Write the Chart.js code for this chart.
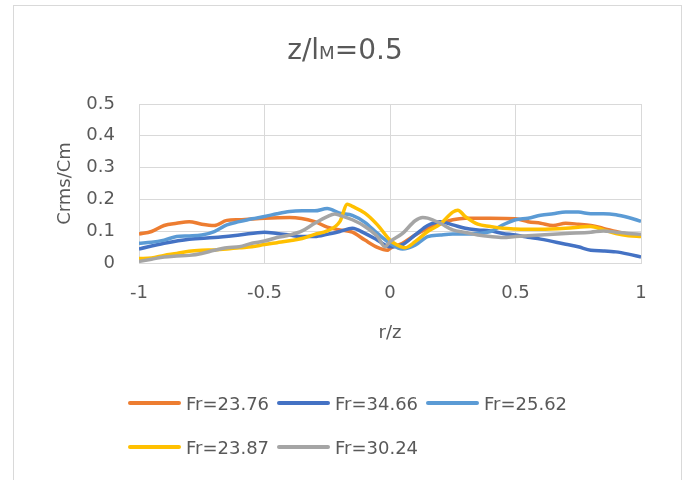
<!DOCTYPE html>
<html>
<head>
<meta charset="utf-8">
<script src="https://cdn.jsdelivr.net/npm/chart.js"></script>
<style>
  body { margin: 0; background: #fff; font-family: "DejaVu Sans", sans-serif; color: #595959; }
  .quadro { position: absolute; left: 13px; top: 5px; width: 667px; height: 500px; border: 1px solid #d9d9d9; }
  .grafico { position: absolute; left: 0; top: 0; width: 683px; height: 480px; }
  .titulo { position: absolute; left: 0; top: 33px; width: 690px; text-align: center; font-size: 28px; line-height: 34px; }
  .titulo span { font-size: 65%; }
  .legenda { position: absolute; left: 128px; top: 390px; width: 460px; display: flex; flex-wrap: wrap; row-gap: 18px; }
  .item { width: 149px; height: 26px; display: flex; align-items: center; font-size: 18px; white-space: nowrap; }
  .linha { width: 53px; height: 4px; border-radius: 2px; margin-right: 5px; }
</style>
</head>
<body>
<div class="quadro"></div>
<div class="grafico"><canvas id="myChart"></canvas></div>
<div class="titulo">z/l<span>M</span>=0.5</div>
<div class="legenda" id="legenda"></div>

<script>
// dados (r/z e Crms/Cm)
const nomes = ['Fr=23.76', 'Fr=34.66', 'Fr=25.62', 'Fr=23.87', 'Fr=30.24']
const cores = ['#ED7D31', '#4472C4', '#5B9BD5', '#FFC000', '#A5A5A5']

const r_fr2376 = [-1, -0.95, -0.9, -0.85, -0.8, -0.75, -0.7, -0.65, -0.6, -0.5, -0.4, -0.3, -0.25, -0.2, -0.15, -0.1, -0.05, -0.01, 0, 0.05, 0.1, 0.15, 0.2, 0.25, 0.3, 0.4, 0.5, 0.55, 0.6, 0.65, 0.7, 0.75, 0.8, 0.85, 0.9, 0.95, 1]
const c_fr2376 = [0.091, 0.099, 0.118, 0.125, 0.13, 0.122, 0.118, 0.134, 0.136, 0.141, 0.143, 0.13, 0.113, 0.104, 0.097, 0.072, 0.049, 0.04, 0.046, 0.062, 0.088, 0.109, 0.123, 0.136, 0.141, 0.141, 0.139, 0.13, 0.125, 0.118, 0.125, 0.122, 0.118, 0.109, 0.099, 0.09, 0.085]

const r_fr3466 = [-1, -0.9, -0.8, -0.7, -0.6, -0.5, -0.45, -0.4, -0.35, -0.3, -0.25, -0.2, -0.15, -0.1, -0.05, 0, 0.05, 0.1, 0.15, 0.2, 0.25, 0.3, 0.35, 0.4, 0.45, 0.5, 0.55, 0.6, 0.7, 0.75, 0.8, 0.85, 0.9, 0.95, 1]
const c_fr3466 = [0.044, 0.062, 0.075, 0.08, 0.088, 0.097, 0.093, 0.088, 0.083, 0.083, 0.09, 0.099, 0.109, 0.093, 0.072, 0.051, 0.058, 0.088, 0.118, 0.13, 0.12, 0.109, 0.104, 0.101, 0.093, 0.088, 0.081, 0.075, 0.059, 0.051, 0.04, 0.038, 0.035, 0.028, 0.019]

const r_fr2562 = [-1, -0.95, -0.9, -0.85, -0.8, -0.75, -0.7, -0.65, -0.6, -0.55, -0.5, -0.45, -0.4, -0.35, -0.3, -0.25, -0.2, -0.15, -0.1, -0.05, 0, 0.05, 0.1, 0.15, 0.2, 0.25, 0.3, 0.35, 0.4, 0.45, 0.5, 0.55, 0.6, 0.65, 0.7, 0.75, 0.8, 0.85, 0.9, 0.95, 1]
const c_fr2562 = [0.062, 0.065, 0.072, 0.083, 0.085, 0.088, 0.099, 0.12, 0.13, 0.139, 0.146, 0.155, 0.162, 0.164, 0.164, 0.171, 0.157, 0.15, 0.128, 0.093, 0.062, 0.044, 0.056, 0.083, 0.088, 0.091, 0.091, 0.093, 0.099, 0.12, 0.136, 0.141, 0.15, 0.155, 0.16, 0.16, 0.155, 0.155, 0.152, 0.143, 0.131]

const r_fr2387 = [-1, -0.95, -0.9, -0.85, -0.8, -0.75, -0.7, -0.65, -0.6, -0.55, -0.5, -0.45, -0.4, -0.35, -0.3, -0.25, -0.2, -0.17, -0.15, -0.1, -0.05, 0, 0.03, 0.06, 0.1, 0.15, 0.2, 0.25, 0.27, 0.3, 0.35, 0.4, 0.45, 0.5, 0.6, 0.7, 0.8, 0.85, 0.9, 0.95, 1]
const c_fr2387 = [0.014, 0.016, 0.024, 0.03, 0.037, 0.04, 0.041, 0.044, 0.048, 0.051, 0.058, 0.064, 0.07, 0.077, 0.09, 0.101, 0.13, 0.185, 0.178, 0.157, 0.12, 0.072, 0.056, 0.048, 0.067, 0.099, 0.122, 0.16, 0.166, 0.146, 0.122, 0.115, 0.109, 0.107, 0.106, 0.109, 0.115, 0.104, 0.093, 0.086, 0.083]

const r_fr3024 = [-1, -0.95, -0.9, -0.85, -0.8, -0.75, -0.7, -0.65, -0.6, -0.55, -0.5, -0.45, -0.4, -0.35, -0.3, -0.25, -0.22, -0.2, -0.15, -0.1, -0.05, -0.02, 0, 0.05, 0.1, 0.13, 0.15, 0.2, 0.25, 0.3, 0.35, 0.4, 0.45, 0.5, 0.6, 0.7, 0.8, 0.85, 0.9, 0.95, 1]
const c_fr3024 = [0.005, 0.012, 0.019, 0.022, 0.024, 0.03, 0.04, 0.048, 0.051, 0.062, 0.069, 0.08, 0.088, 0.101, 0.125, 0.146, 0.154, 0.15, 0.136, 0.115, 0.083, 0.051, 0.067, 0.093, 0.133, 0.143, 0.141, 0.125, 0.104, 0.096, 0.088, 0.083, 0.08, 0.083, 0.088, 0.093, 0.097, 0.101, 0.097, 0.093, 0.09]

const eixoX = [-1, -0.5, 0, 0.5, 1]
const rotulosX = ['-1', '-0.5', '0', '0.5', '1']
const eixoY = [0, 0.1, 0.2, 0.3, 0.4, 0.5]
const rotulosY = ['0', '0.1', '0.2', '0.3', '0.4', '0.5']

const series = [
  [r_fr2376, c_fr2376],
  [r_fr3466, c_fr3466],
  [r_fr2562, c_fr2562],
  [r_fr2387, c_fr2387],
  [r_fr3024, c_fr3024]
]

function pontos(rs, cs) {
  return rs.map(function (r, i) { return { x: r, y: cs[i] } })
}

const datasets = series.map(function (s, i) {
  return {
    label: nomes[i],
    data: pontos(s[0], s[1]),
    borderColor: cores[i],
    backgroundColor: cores[i],
    borderWidth: 3.5,
    pointRadius: 0,
    cubicInterpolationMode: 'monotone',
    order: 5 - i   // ultima serie fica por cima, como no Excel
  }
})

const corTexto = '#595959'
const corGrade = '#d9d9d9'

const ctx = document.getElementById('myChart');

new Chart(ctx, {
  type: 'line',
  data: { datasets: datasets },
  options: {
    responsive: true,
    maintainAspectRatio: false,
    animation: false,
    layout: {
      padding: { left: 50, right: 42, top: 104, bottom: 136 }
    },
    plugins: {
      legend: { display: false },
      title: { display: false },
      tooltip: { enabled: false }
    },
    scales: {
      x: {
        type: 'linear',
        min: -1,
        max: 1,
        afterFit: function (scale) { scale.height = 81 },
        afterBuildTicks: function (scale) { scale.ticks = eixoX.map(function (v) { return { value: v } }) },
        grid: { color: corGrade, drawTicks: false },
        border: { color: corGrade },
        ticks: {
          color: corTexto,
          padding: 20,
          font: { family: 'DejaVu Sans', size: 18 },
          maxRotation: 0,
          callback: function (v, i) { return rotulosX[i] }
        },
        title: {
          display: true,
          text: 'r/z',
          color: corTexto,
          font: { family: 'DejaVu Sans', size: 18 },
          padding: { top: 0, bottom: 0 }
        }
      },
      y: {
        min: 0,
        max: 0.5,
        afterFit: function (scale) { scale.width = 89 },
        afterBuildTicks: function (scale) { scale.ticks = eixoY.map(function (v) { return { value: v } }) },
        grid: { color: corGrade, drawTicks: false },
        border: { color: corGrade },
        ticks: {
          color: corTexto,
          padding: 24,
          font: { family: 'DejaVu Sans', size: 18 },
          callback: function (v, i) { return rotulosY[i] }
        },
        title: {
          display: true,
          text: 'Crms/Cm',
          color: corTexto,
          font: { family: 'DejaVu Sans', size: 18 },
          padding: { top: 5, bottom: 0 }
        }
      }
    }
  }
});

// legenda em html, duas linhas como no original
const legenda = document.getElementById('legenda')
nomes.forEach(function (nome, i) {
  const item = document.createElement('div')
  item.className = 'item'
  item.innerHTML = '<span class="linha" style="background:' + cores[i] + '"></span>' + nome
  legenda.appendChild(item)
})
</script>
</body>
</html>
